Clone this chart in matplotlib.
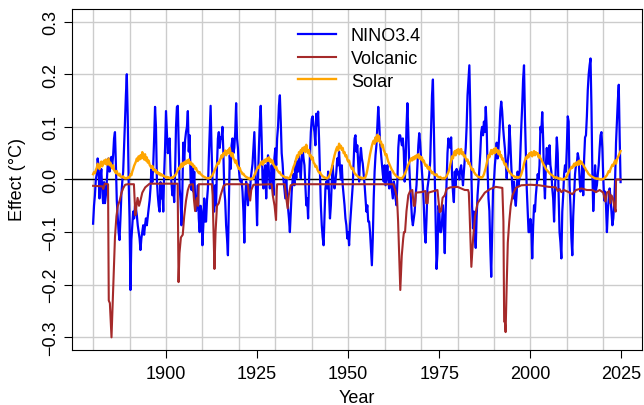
import numpy as np
import matplotlib
matplotlib.use('Agg')
import matplotlib.pyplot as plt

plt.rcParams['font.family'] = ['Liberation Sans', 'DejaVu Sans']

# NINO3.4 effect, quarterly from 1880.0 (4 values per year)
nino_start = 1880.0
nino = [
    -0.084, -0.05, -0.03, 0.0,   0.01, 0.04, 0.027, -0.036,   0.0, 0.02, -0.02, -0.045,
    -0.005, -0.045, -0.03, -0.005,   0.027, 0.04, 0.015, 0.03,
    0.043, 0.027, 0.046, 0.078,   0.09, 0.03, -0.04, -0.07,   -0.1, -0.115, -0.075, -0.03,
    -0.005, 0.015, 0.06, 0.11,   0.16, 0.2, 0.12, 0.0,
    -0.074, -0.21, -0.115, -0.087,   -0.061, -0.074, -0.05, -0.055,   -0.068, -0.087, -0.1, -0.112,
    -0.134, -0.112, -0.1, -0.087,   -0.105, -0.087, -0.074, -0.087,
    -0.07, -0.055, -0.04, -0.017,   0.02, -0.005, 0.027, 0.078,   0.138, 0.1, 0.0, -0.03,
    -0.05, -0.061, -0.005, -0.036,   -0.011, -0.061, 0.01, 0.06,
    0.13, 0.09, 0.05, 0.06,   0.078, 0.015, -0.005, -0.03,   -0.011, -0.043, 0.015, 0.1,
    0.138, 0.14, 0.06, -0.017,   -0.04, -0.087, -0.02, 0.07,
    0.03, 0.075, 0.09, 0.1,   0.13, 0.053, 0.084, 0.0,   -0.02, 0.027, -0.023, 0.015,
    -0.036, -0.06, -0.04, -0.011,   -0.074, -0.1, -0.05, -0.06,
    -0.125, -0.087, -0.036, -0.08,   -0.08, -0.04, -0.017, 0.04,   0.09, 0.14, 0.06, 0.0,
    -0.03, -0.061, -0.011, -0.049,   0.027, 0.078, 0.09, 0.06,
    0.08, 0.078, 0.1, 0.05,   -0.02, -0.04, -0.087, -0.112,   -0.144, -0.049, 0.046, 0.02,
    0.065, 0.078, 0.05, 0.06,   0.09, 0.145, 0.078, 0.059,
    0.02, 0.0, -0.004, 0.0,   -0.023, -0.061, -0.12, -0.036,   -0.004, -0.03, -0.049, -0.011,
    -0.036, 0.002, 0.015, 0.03,   0.06, 0.09, 0.027, -0.03,
    -0.087, 0.0, 0.06, 0.11,   0.14, 0.078, 0.0, -0.017,   0.015, 0.027, -0.036, 0.015,
    0.046, 0.015, -0.017, 0.0,   0.027, 0.002, -0.03, 0.04,
    0.059, 0.027, 0.078, 0.1,   0.141, 0.16, 0.11, 0.05,   0.03, 0.0, -0.017, -0.036,
    0.002, -0.03, -0.055, -0.074,   -0.1, -0.06, -0.023, 0.0,
    0.01, -0.011, 0.034, 0.002,   0.034, 0.015, 0.046, 0.02,   0.002, 0.04, 0.059, 0.04,
    0.027, -0.011, -0.049, -0.036,   -0.074, -0.004, 0.046, 0.09,
    0.115, 0.12, 0.103, 0.09,   0.065, 0.125, 0.103, 0.129,   0.078, 0.015, -0.049, -0.087,
    -0.11, -0.125, -0.074, -0.017,   -0.004, -0.017, 0.015, -0.03,
    -0.074, -0.049, -0.004, 0.027,   0.0, -0.017, -0.004, 0.015,   0.04, 0.027, 0.053, 0.021,
    0.0, 0.027, -0.011, -0.03,   -0.049, -0.074, -0.087, -0.112,
    -0.1, -0.125, -0.087, -0.06,   -0.036, -0.011, 0.034, 0.078,   0.084, 0.053, 0.065, 0.03,
    -0.004, 0.04, 0.06, 0.04,   0.03, 0.01, -0.01, -0.036,
    -0.061, -0.049, -0.08, -0.08,   -0.1, -0.13, -0.163, -0.112,   -0.036, 0.015, 0.046, 0.065,
    0.1, 0.138, 0.11, 0.07,   0.05, 0.03, 0.01, -0.004,
    0.027, -0.011, 0.008, 0.027,   0.0, -0.017, 0.015, -0.004,   -0.02, -0.036, -0.004, -0.011,
    -0.036, -0.049, -0.004, 0.06,   0.084, 0.084, 0.075, 0.065,
    0.078, 0.053, -0.004, 0.027,   0.1, 0.145, 0.09, 0.027,   -0.011, -0.04, -0.074, -0.087,
    -0.074, -0.061, -0.03, -0.011,   0.027, 0.065, 0.088, 0.07,
    0.04, 0.015, -0.011, -0.049,   -0.1, -0.12, -0.074, -0.017,   -0.004, 0.01, 0.034, 0.1,
    0.16, 0.19, 0.1, 0.0,   -0.087, -0.17, -0.14, -0.05,
    -0.06, -0.1, -0.1, -0.08,   -0.049, -0.087, -0.14, -0.061,   -0.004, 0.05, 0.078, 0.065,
    0.06, 0.08, 0.01, -0.023,   -0.043, 0.015, -0.011, 0.02,
    0.01, 0.015, 0.0, 0.02,   0.027, 0.01, -0.011, 0.015,   0.04, 0.06, 0.1, 0.16,
    0.19, 0.217, 0.13, 0.03,   -0.05, -0.093, -0.061, -0.1,
    -0.13, -0.07, -0.03, -0.005,   0.02, 0.05, 0.09, 0.1,   0.084, 0.11, 0.09, 0.138,
    0.1, 0.02, -0.036, -0.06,   -0.13, -0.185, -0.1, -0.02,
    -0.004, 0.027, 0.046, 0.07,   0.04, 0.06, 0.09, 0.13,   0.148, 0.13, 0.1, 0.078,
    0.059, 0.03, 0.002, 0.03,   0.05, 0.103, 0.07, 0.027,
    -0.01, -0.036, -0.004, -0.036,   -0.05, -0.023, 0.015, -0.011,   0.002, 0.05, 0.1, 0.14,
    0.19, 0.217, 0.12, 0.05,   -0.017, -0.06, -0.1, -0.1,
    -0.075, -0.09, -0.15, -0.09,   -0.049, -0.061, -0.03, -0.011,   0.01, 0.0, 0.027, 0.1,
    0.09, 0.128, 0.078, 0.0,   -0.036, 0.027, 0.06, 0.03,
    0.03, 0.065, 0.027, 0.015,   -0.017, -0.036, -0.08, -0.02,   0.03, 0.08, 0.05, -0.03,
    -0.1, -0.12, -0.15, -0.061,   -0.03, 0.01, 0.027, 0.015,
    0.06, 0.12, 0.11, -0.011,   -0.05, -0.112, -0.144, -0.07,   -0.03, 0.01, 0.027, 0.03,
    0.05, 0.04, 0.0, -0.023,   -0.004, 0.027, -0.03, 0.04,
    0.08, 0.084, 0.12, 0.17,   0.2, 0.217, 0.23, 0.14,   0.015, -0.06, -0.02, 0.027,
    -0.02, -0.011, 0.01, 0.027,   0.059, 0.084, 0.09, 0.059,
    0.002, -0.04, -0.023, -0.049,   -0.1, -0.06, -0.036, -0.017,   -0.036, -0.061, -0.087, -0.074,
    -0.045, 0.0, 0.07, 0.11,   0.15, 0.18, 0.08, -0.005,
]

# Volcanic effect, break points (year, value)
volc_years = [
    1880.0, 1882.5, 1882.8, 1883.2, 1884.1, 1884.3, 1884.6, 1885.05, 1885.3, 1885.6,
    1886.0, 1886.4, 1886.8, 1887.3, 1887.8, 1888.3, 1888.8, 1889.5, 1891.2, 1891.4,
    1891.6, 1891.9, 1892.2, 1892.6, 1893.0, 1893.5, 1894.3, 1895.5, 1903.2, 1903.45,
    1903.7, 1904.1, 1904.6, 1905.0, 1905.5, 1906.0, 1906.5, 1907.4, 1907.7, 1908.0,
    1908.3, 1908.5, 1908.8, 1909.0, 1912.6, 1912.8, 1913.3, 1913.6, 1914.0, 1914.5,
    1915.0, 1915.8, 1916.5, 1922.5, 1922.7, 1923.1, 1923.4, 1924.0, 1929.0, 1929.3,
    1929.8, 1930.2, 1930.4, 1930.5, 1932.6, 1932.9, 1933.4, 1933.7, 1934.2, 1935.0,
    1962.4, 1962.9, 1963.4, 1963.7, 1964.3, 1964.7, 1965.1, 1965.3, 1965.6, 1966.0,
    1966.5, 1967.0, 1967.6, 1968.0, 1968.3, 1968.6, 1970.0, 1971.2, 1971.4, 1971.8,
    1972.0, 1974.5, 1974.8, 1975.1, 1975.5, 1975.9, 1976.5, 1977.0, 1978.0, 1980.0,
    1982.0, 1982.9, 1983.1, 1983.3, 1983.8, 1984.3, 1984.8, 1985.5, 1986.5, 1987.5,
    1989.0, 1990.5, 1992.3, 1992.6, 1992.8, 1993.0, 1993.2, 1993.5, 1993.8, 1994.2,
    1994.6, 1995.1, 1996.0, 1997.5, 2000.0, 2002.4, 2005.0, 2007.0, 2007.5, 2008.0,
    2008.5, 2009.2, 2010.5, 2011.5, 2012.5, 2014.0, 2015.5, 2017.0, 2018.0, 2019.0,
    2020.0, 2020.6, 2021.0, 2021.6, 2021.9, 2022.2, 2022.6, 2023.0, 2023.4, 2023.5,
    2024.75,
]
volc_vals = [
    -0.012, -0.013, -0.018, -0.008, -0.009, -0.23, -0.235, -0.30, -0.25, -0.19,
    -0.11, -0.07, -0.05, -0.04, -0.025, -0.016, -0.01, -0.009, -0.009, -0.04,
    -0.068, -0.05, -0.035, -0.05, -0.04, -0.025, -0.015, -0.008, -0.008, -0.195,
    -0.14, -0.11, -0.105, -0.07, -0.04, -0.02, -0.01, -0.009, -0.04, -0.06,
    -0.04, -0.035, -0.05, -0.009, -0.009, -0.03, -0.17, -0.1, -0.05, -0.045,
    -0.03, -0.012, -0.009, -0.009, -0.025, -0.04, -0.02, -0.01, -0.009, -0.03,
    -0.05, -0.077, -0.02, -0.009, -0.009, -0.03, -0.055, -0.03, -0.011, -0.009,
    -0.009, -0.02, -0.035, -0.08, -0.21, -0.145, -0.112, -0.1, -0.1, -0.06,
    -0.03, -0.022, -0.02, -0.05, -0.05, -0.025, -0.024, -0.022, -0.045, -0.045,
    -0.025, -0.02, -0.04, -0.062, -0.06, -0.035, -0.03, -0.018, -0.015, -0.014,
    -0.02, -0.02, -0.025, -0.06, -0.166, -0.11, -0.07, -0.045, -0.035, -0.025,
    -0.018, -0.014, -0.016, -0.08, -0.27, -0.27, -0.29, -0.2, -0.12, -0.08,
    -0.05, -0.03, -0.016, -0.011, -0.01, -0.011, -0.014, -0.015, -0.022, -0.018,
    -0.024, -0.02, -0.024, -0.028, -0.02, -0.017, -0.02, -0.02, -0.024, -0.02,
    -0.025, -0.042, -0.025, -0.022, -0.045, -0.03, -0.035, -0.05, -0.061, 0.0,
    0.0,
]

# Solar effect, quarterly from 1880.0
solar = [
    .010, .014, .012, .018,  .022, .030, .026, .020,  .028, .034, .025, .031,  .036, .030, .038, .028,
    .034, .040, .027, .032,  .025, .021, .027, .018,  .015, .012, .016, .010,  .008, .011, .006, .005,
    .004, .006, .003, .002,  .003, .002, .004, .003,  .005, .010, .008, .015,  .020, .026, .030, .034,
    .040, .035, .044, .038,  .046, .040, .052, .044,  .038, .048, .036, .042,  .032, .036, .028, .025,
    .022, .026, .018, .020,  .015, .018, .012, .014,  .010, .012, .008, .010,  .007, .008, .006, .005,
    .004, .005, .003, .004,  .003, .002, .004, .003,  .004, .006, .008, .010,  .014, .018, .022, .020,
    .026, .030, .024, .032,  .028, .034, .030, .036,  .032, .038, .030, .033,  .028, .030, .024, .026,
    .020, .022, .017, .015,  .012, .014, .010, .009,  .007, .006, .005, .004,  .003, .002, .003, .002,
    .003, .004, .006, .008,  .012, .016, .020, .024,  .028, .032, .030, .036,  .040, .046, .042, .050,
    .048, .055, .046, .052,  .056, .050, .060, .048,  .044, .050, .040, .038,  .032, .036, .028, .024,
    .020, .022, .016, .014,  .010, .011, .008, .006,  .005, .004, .002, .003,  .001, .000, .002, .001,
    .004, .008, .012, .016,  .020, .024, .022, .028,  .030, .034, .028, .036,  .032, .038, .034, .040,
    .036, .042, .034, .038,  .032, .036, .028, .026,  .022, .024, .018, .016,  .013, .014, .010, .008,
    .007, .006, .005, .004,  .003, .004, .002, .003,  .004, .008, .012, .018,  .024, .028, .034, .040,
    .046, .042, .052, .048,  .056, .050, .060, .054,  .062, .052, .066, .056,  .050, .056, .044, .046,
    .038, .042, .032, .030,  .024, .026, .020, .016,  .013, .014, .010, .008,  .006, .005, .004, .003,
    .003, .002, .004, .006,  .010, .016, .022, .030,  .038, .046, .052, .058,  .062, .055, .068, .060,
    .064, .056, .060, .050,  .052, .044, .046, .038,  .034, .036, .028, .024,  .020, .022, .016, .012,
    .010, .008, .007, .005,  .004, .003, .004, .002,  .002, .003, .002, .005,  .010, .018, .028, .038,
    .048, .056, .064, .070,  .074, .068, .080, .072,  .085, .074, .082, .070,  .072, .062, .066, .056,
    .052, .046, .048, .040,  .034, .030, .026, .022,  .018, .016, .012, .010,  .008, .006, .005, .004,
    .003, .002, .003, .002,  .004, .007, .010, .014,  .018, .024, .028, .032,  .036, .040, .036, .042,
    .038, .044, .040, .046,  .042, .048, .040, .044,  .038, .042, .034, .036,  .030, .026, .028, .022,
    .020, .024, .018, .016,  .012, .014, .010, .009,  .008, .010, .006, .005,  .004, .005, .003, .002,
    .002, .003, .002, .004,  .006, .010, .014, .020,  .028, .036, .044, .040,  .048, .054, .046, .056,
    .050, .058, .048, .054,  .058, .048, .052, .044,  .046, .040, .036, .038,  .030, .032, .026, .022,
    .018, .020, .014, .012,  .009, .008, .006, .005,  .004, .005, .003, .004,  .006, .010, .016, .022,
    .030, .038, .046, .042,  .050, .056, .048, .054,  .058, .050, .060, .052,  .056, .048, .054, .044,
    .046, .038, .040, .032,  .028, .030, .022, .020,  .016, .015, .012, .010,  .008, .007, .006, .005,
    .004, .005, .003, .004,  .004, .006, .010, .016,  .022, .030, .036, .042,  .040, .046, .042, .050,
    .046, .052, .044, .050,  .054, .046, .052, .048,  .050, .042, .046, .040,  .038, .034, .030, .027,
    .024, .020, .018, .016,  .014, .012, .010, .009,  .008, .006, .005, .004,  .003, .004, .002, .002,
    .001, .002, .001, .000,  .001, .000, .002, .004,  .006, .010, .014, .018,  .020, .024, .022, .026,
    .030, .026, .032, .028,  .034, .028, .036, .030,  .034, .030, .028, .024,  .022, .018, .016, .013,
    .010, .009, .007, .006,  .005, .004, .003, .002,  .002, .001, .002, .001,  .001, .000, .001, .000,
    .001, .002, .004, .006,  .008, .012, .016, .014,  .020, .024, .028, .026,  .032, .036, .030, .038,
    .042, .046, .050, .054,
]

nino_t = nino_start + 0.25 * np.arange(len(nino))
solar_t = nino_start + 0.25 * np.arange(len(solar))

fig = plt.figure(figsize=(6.44, 4.06), dpi=100)
ax = fig.add_axes([0.1118, 0.1355, 0.8846, 0.8399])

tmin, tmax = nino_t[0], nino_t[-1]
pad = 0.04 * (tmax - tmin)
ax.set_xlim(tmin - pad, tmax + pad)
ax.set_ylim(-0.3 - 0.024, 0.3 + 0.024)

gridc = '#cccccc'
for g in np.arange(1880, 2021, 10):
    ax.axvline(g, color=gridc, lw=1.0, zorder=0)
for g in np.arange(-0.3, 0.31, 0.1):
    ax.axhline(g, color=gridc, lw=1.0, zorder=0)
ax.axhline(0, color='black', lw=1.0, zorder=1)

ax.plot(nino_t, nino, color='blue', lw=1.6, label='NINO3.4', zorder=2)
ax.plot(volc_years, volc_vals, color='#A52A2A', lw=1.5, label='Volcanic', zorder=3)
ax.plot(solar_t, solar, color='orange', lw=1.7, label='Solar', zorder=4)

ax.set_xticks([1900, 1925, 1950, 1975, 2000, 2025])
ax.set_yticks([-0.3, -0.2, -0.1, 0.0, 0.1, 0.2, 0.3])
ax.set_yticklabels(['\u22120.3', '\u22120.2', '\u22120.1', '0.0', '0.1', '0.2', '0.3'],
                   rotation=90, va='center')
ax.tick_params(axis='both', labelsize=13, length=5.5, width=0.8, pad=5)
ax.tick_params(axis='y', pad=4)
for s in ax.spines.values():
    s.set_linewidth(0.8)

ax.set_xlabel('Year', fontsize=13, labelpad=5)
fig.text(18 / 644, 1 - 180 / 406, 'Effect (\u00b0C)', rotation=90, fontsize=13,
         ha='center', va='center')

ax.legend(loc='upper center', bbox_to_anchor=(0.505, 1.0), frameon=False, fontsize=13,
          handlelength=2.1, handletextpad=0.8, labelspacing=0.32, borderaxespad=0.6)

fig.savefig('out.png', dpi=100)
